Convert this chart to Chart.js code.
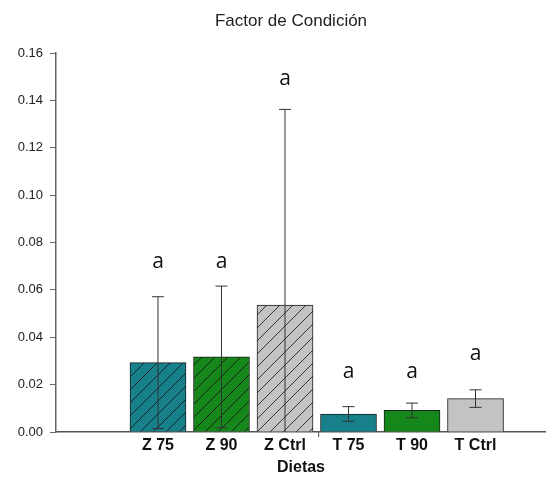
<!DOCTYPE html>
<html>
<head>
<meta charset="utf-8">
<script src="https://cdn.jsdelivr.net/npm/chart.js@4/dist/chart.umd.min.js"></script>
<style>
  html, body { margin: 0; padding: 0; background: #fff; }
  canvas { display: block; }
</style>
</head>
<body>
<canvas id="chart" width="546" height="479"></canvas>
<script>
// data
const categories = ['Z 75', 'Z 90', 'Z Ctrl', 'T 75', 'T 90', 'T Ctrl'];
const means = [0.0293, 0.0317, 0.0536, 0.0076, 0.0091, 0.0141];
const errors = [0.0278, 0.0299, 0.0826, 0.0031, 0.0031, 0.0037];
const letters = ['a', 'a', 'a', 'a', 'a', 'a'];
const letterLevels = [0.0717, 0.0717, 0.149, 0.0253, 0.0253, 0.0329];
const yTicks = [0, 0.02, 0.04, 0.06, 0.08, 0.10, 0.12, 0.14, 0.16];

const teal = '#17808a';
const green = '#16871a';
const grey = '#c3c3c3';
const barColors = [teal, green, grey, teal, green, grey];
const hatched = [true, true, true, false, false, false];

const makeHatch = (color) => {
    const size = 13;
    const c = document.createElement('canvas');
    c.width = size;
    c.height = size;
    const ctx = c.getContext('2d');
    ctx.fillStyle = color;
    ctx.fillRect(0, 0, size, size);
    ctx.strokeStyle = 'rgba(15,15,15,0.8)';
    ctx.lineWidth = 1;
    ctx.beginPath();
    ctx.moveTo(0, size);
    ctx.lineTo(size, 0);
    ctx.moveTo(-size / 2, size / 2);
    ctx.lineTo(size / 2, -size / 2);
    ctx.moveTo(size / 2, size * 1.5);
    ctx.lineTo(size * 1.5, size / 2);
    ctx.stroke();
    return ctx.createPattern(c, 'repeat');
};

const fills = barColors.map((col, i) => hatched[i] ? makeHatch(col) : col);

// error bars drawn over the bars
const errorBarPlugin = {
    id: 'errorBars',
    afterDatasetsDraw(chart) {
        const { ctx, scales: { x, y } } = chart;
        ctx.save();
        ctx.strokeStyle = '#333';
        ctx.lineWidth = 1;
        means.forEach((m, i) => {
            const px = x.getPixelForValue(i + 1);
            const top = y.getPixelForValue(m + errors[i]);
            const lowVal = m - errors[i];
            const bottom = y.getPixelForValue(Math.max(0, lowVal));
            ctx.beginPath();
            ctx.moveTo(px, top);
            ctx.lineTo(px, bottom);
            ctx.moveTo(px - 6, top);
            ctx.lineTo(px + 6, top);
            if (lowVal > 0) {
                ctx.moveTo(px - 6, bottom);
                ctx.lineTo(px + 6, bottom);
            }
            ctx.stroke();
        });
        ctx.restore();
    }
};

// significance letters, title and the little separator tick
const annotationPlugin = {
    id: 'annotations',
    afterDraw(chart) {
        const { ctx, scales: { x, y } } = chart;
        ctx.save();
        ctx.fillStyle = '#111';
        ctx.textAlign = 'center';
        ctx.textBaseline = 'middle';
        ctx.font = '21px "Open Sans"';
        letters.forEach((l, i) => {
            ctx.fillText(l, x.getPixelForValue(i + 1), y.getPixelForValue(letterLevels[i]));
        });
        ctx.font = '17px "Liberation Sans", Arial';
        ctx.fillStyle = '#222';
        ctx.fillText('Factor de Condición', 291, 21);

        const sep = x.getPixelForValue(3.53);
        ctx.strokeStyle = '#555';
        ctx.beginPath();
        ctx.moveTo(sep, y.bottom);
        ctx.lineTo(sep, y.bottom + 5);
        ctx.stroke();
        ctx.restore();
    }
};

new Chart(document.getElementById('chart'), {
    type: 'bar',
    data: {
        datasets: [{
            data: means.map((m, i) => ({ x: i + 1, y: m })),
            backgroundColor: fills,
            borderColor: '#1e1e1e',
            borderWidth: 1,
            borderSkipped: 'bottom',
            barThickness: 56
        }]
    },
    options: {
        responsive: false,
        animation: false,
        devicePixelRatio: 1,
        layout: { padding: { top: 53, right: 0, left: 0, bottom: 0 } },
        plugins: {
            legend: { display: false },
            tooltip: { enabled: false }
        },
        scales: {
            x: {
                type: 'linear',
                offset: false,
                min: -0.606,
                max: 7.11,
                grid: { display: false, drawTicks: false },
                border: { display: true, color: '#555', width: 1.5 },
                ticks: {
                    stepSize: 1,
                    autoSkip: false,
                    maxRotation: 0,
                    padding: 4,
                    color: '#111',
                    font: { family: '"Liberation Sans", Arial', size: 16, weight: 'bold' },
                    callback: (v) => (Number.isInteger(v) && v >= 1 && v <= categories.length) ? categories[v - 1] : ''
                },
                title: {
                    display: true,
                    text: 'Dietas',
                    color: '#111',
                    font: { family: '"Liberation Sans", Arial', size: 16, weight: 'bold' },
                    padding: { top: 0, bottom: 2 }
                },
                afterFit: (scale) => {
                    scale.height = 47;
                    scale.paddingRight = 0;
                    scale.paddingLeft = 0;
                }
            },
            y: {
                min: 0,
                max: 0.16,
                grid: { display: true, drawOnChartArea: false, drawTicks: true, tickLength: 6, color: '#666', tickWidth: 1 },
                border: { display: true, color: '#666', width: 1.5 },
                afterBuildTicks: (scale) => { scale.ticks = yTicks.map((v) => ({ value: v })); },
                ticks: {
                    padding: 7,
                    color: '#222',
                    font: { family: '"Liberation Sans", Arial', size: 13 },
                    callback: (v) => v.toFixed(2)
                },
                afterFit: (scale) => { scale.width = 56; }
            }
        }
    },
    plugins: [errorBarPlugin, annotationPlugin]
});
</script>
</body>
</html>
